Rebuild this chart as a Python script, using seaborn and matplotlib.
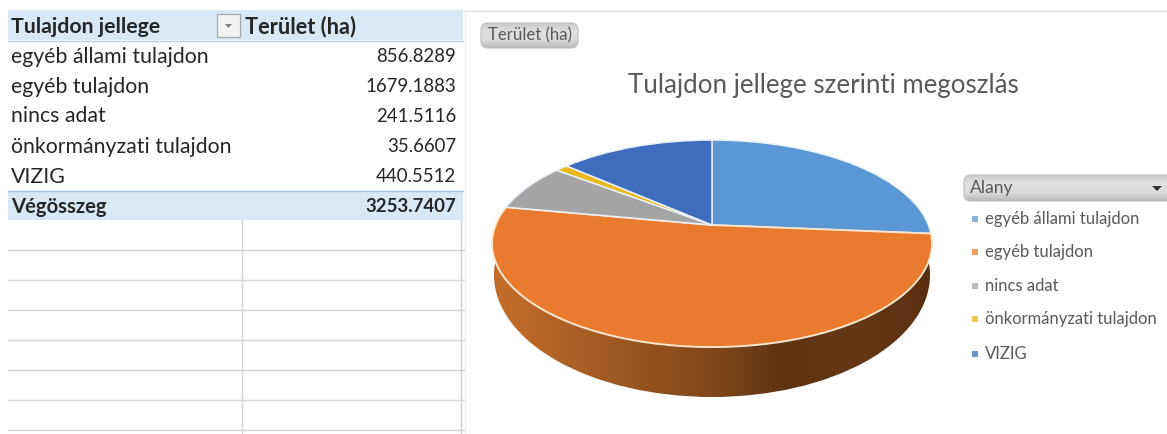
import numpy as np
import matplotlib
matplotlib.use('Agg')
import matplotlib.pyplot as plt
from matplotlib.patches import Ellipse, FancyBboxPatch, Polygon
from matplotlib.transforms import Transform
import seaborn as sns

categories = ['egyéb állami tulajdon', 'egyéb tulajdon', 'nincs adat',
              'önkormányzati tulajdon', 'VIZIG']
areas = [856.8289, 1679.1883, 241.5116, 35.6607, 440.5512]
total_label = 'Végösszeg'
field_label = 'Tulajdon jellege'
value_label = 'Terület (ha)'
legend_title = 'Alany'
chart_title = 'Tulajdon jellege szerinti megoszlás'
slice_colors = ['#5B97D3', '#E97A2E', '#A5A5A5', '#E9B91C', '#3F6DBE']

W, H = 1167, 434
TEXT = '#262626'
GREY = '#595959'
LABEL_SIZE = 15.3
NUMBER_SIZE = 13.4

sns.set_theme(style='white')
plt.rcParams['font.family'] = ['Lato', 'DejaVu Sans']

fig = plt.figure(figsize=(W / 100, H / 100), dpi=100)
ax = fig.add_axes([0, 0, 1, 1])


class Perspective(Transform):
    # tilted disc: unit pie coordinates -> pixels, apex is off the ellipse centre
    input_dims = 2
    output_dims = 2
    is_affine = False

    def transform_non_affine(self, values):
        values = np.asarray(values, dtype=float)
        w = 1 + 0.179 * values[:, 1]
        return np.column_stack([712 + 216.4 * values[:, 0] / w,
                                225 - 100.2 * values[:, 1] / w])


def gradient_box(x0, y0, x1, y1, colors, horizontal=False, clip=None, z=2):
    cmap = sns.blend_palette(colors, as_cmap=True)
    grad = np.linspace(0, 1, 256)
    grad = grad[None, :] if horizontal else grad[:, None]
    im = ax.imshow(grad, cmap=cmap, extent=(x0, x1, y1, y0), aspect='auto',
                   interpolation='bilinear', zorder=z)
    if clip is not None:
        ax.add_patch(clip)
        clip.set_visible(False)
        im.set_clip_path(clip)
    return im


def button(x0, y0, x1, y1):
    box = FancyBboxPatch((x0 + 7, y0 + 7), x1 - x0 - 14, y1 - y0 - 14,
                         boxstyle='round,pad=7', transform=ax.transData)
    gradient_box(x0, y0, x1, y1, ['#c9c9c9', '#e0e0e0', '#dcdcdc', '#b9b9b9'], clip=box)
    ax.add_patch(FancyBboxPatch((x0 + 7, y0 + 7), x1 - x0 - 14, y1 - y0 - 14,
                                boxstyle='round,pad=7', fc='none', ec='#bdbdbd',
                                lw=0.8, zorder=3))


# Pie side wall, only its front is visible below the top face
wall = Ellipse((712, 275), 436, 244, transform=ax.transData)
gradient_box(494, 153, 930, 397,
             ['#C46D2A', '#AE6126', '#965421', '#80481A', '#5F3312', '#653716', '#5A2F10'],
             horizontal=True, clip=wall, z=1)

# Pie top face
wedges, _ = ax.pie(areas, colors=sns.color_palette(slice_colors), startangle=90,
                   counterclock=False, wedgeprops={'edgecolor': '#e9f1fa', 'linewidth': 1.1})
persp = Perspective()
for wedge in wedges:
    wedge.set_transform(persp + ax.transData)
    wedge.set_zorder(2)
wedges[1].set_edgecolor('#fbe6cd')
wedges[1].set_linewidth(1.4)

# Pivot table bands
ax.fill_between([8, 463], 10, 40, color='#DAE8F5', lw=0, zorder=0)
ax.fill_between([8, 463], 191, 220, color='#DAE8F5', lw=0, zorder=0)
ax.plot([8, 463], [40.5, 40.5], color='#B5D0EA', lw=1)
ax.plot([8, 463], [191, 191], color='#9DC0E2', lw=1)

row_y = [57, 87, 116, 147, 177]
for name, area, y in zip(categories, areas, row_y):
    ax.text(11, y, name, fontsize=LABEL_SIZE, color=TEXT, va='center', ha='left')
    ax.text(456, y, f'{area:.4f}', fontsize=NUMBER_SIZE, color=TEXT, va='center', ha='right')
ax.text(11, 27, field_label, fontsize=LABEL_SIZE, color=TEXT, fontweight='bold', va='center')
ax.text(245, 27, value_label, fontsize=15.7, color=TEXT, fontweight='bold', va='center')
ax.text(11, 207, total_label, fontsize=14.6, color=TEXT, fontweight='bold', va='center')
ax.text(456, 207, f'{sum(areas):.4f}', fontsize=NUMBER_SIZE, color=TEXT, fontweight='bold',
        va='center', ha='right')

# Filter button in the header
ax.add_patch(FancyBboxPatch((217, 14), 23, 23, boxstyle='square,pad=0', fc='#F2F2F2',
                            ec='#A8A8A8', lw=0.9, zorder=2))
ax.add_patch(Polygon([(225, 24), (232, 24), (228.5, 28)], fc='#7F7F7F', ec='none', zorder=3))

# Empty worksheet grid
for y in [250, 280, 310, 340, 370, 400, 430]:
    ax.plot([8, 464], [y, y], color='#D4D4D4', lw=1, zorder=0)
ax.plot([242, 242], [220, H], color='#D4D4D4', lw=1, zorder=0)
ax.plot([461, 461], [220, H], color='#CFCFCF', lw=1, zorder=0)
ax.plot([464.5, 464.5], [10, H], color='#EDEDED', lw=1, zorder=0)
ax.plot([465, W], [10.5, 10.5], color='#DEDEDE', lw=1, zorder=0)

# Chart furniture
button(481, 23, 578, 48)
ax.text(529.5, 35.5, value_label, fontsize=12.1, color=GREY, va='center', ha='center')
ax.text(823, 85, chart_title, fontsize=18.6, color=GREY, va='center', ha='center')

button(964, 175, 1180, 201)
ax.text(970, 188.5, legend_title, fontsize=12.6, color=GREY, va='center')
ax.add_patch(Polygon([(1152, 186), (1162, 186), (1157, 191)], fc='#333333', ec='none', zorder=4))

legend_y = [219, 252, 286, 319, 354]
sns.scatterplot(x=[975] * len(categories), y=legend_y, hue=categories,
                palette=slice_colors, marker='s', s=14, linewidth=0, alpha=0.75,
                legend=False, ax=ax, zorder=3)
for name, y in zip(categories, legend_y):
    ax.text(985, y, name, fontsize=12.0, color=GREY, va='center')

ax.set_xlim(0, W)
ax.set_ylim(H, 0)
ax.set_aspect('auto')
ax.axis('off')

fig.savefig('out.png', dpi=100, facecolor='white')
